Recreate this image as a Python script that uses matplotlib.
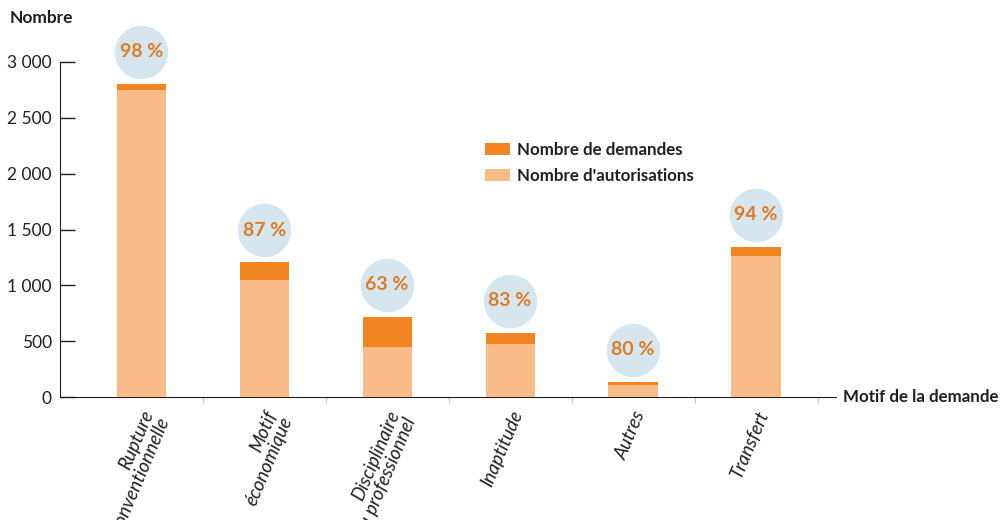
import matplotlib.pyplot as plt
from matplotlib.ticker import FuncFormatter, FixedLocator

plt.rcParams['font.family'] = ['Lato', 'DejaVu Sans']

# valeurs
categories = ["Rupture\nconventionnelle", "Motif\néconomique", "Disciplinaire\nou professionnel",
              "Inaptitude", "Autres", "Transfert"]
demandes = [2800, 1205, 715, 570, 135, 1340]
autorisations = [2750, 1045, 450, 473, 108, 1262]
taux = ["98 %", "87 %", "63 %", "83 %", "80 %", "94 %"]

c_dem = '#f28522'
c_aut = '#f9bb87'
c_rond = '#d6e6ef'
c_pct = '#e07b25'
c_txt = '#231f20'

W, H = 1002, 520
fig = plt.figure(figsize=(W/100, H/100), dpi=100)
ax = fig.add_axes([60/W, 1-397/H, (836-60)/W, (397-62)/H])

x = list(range(len(categories)))
ax.bar(x, demandes, width=0.4, color=c_dem, label="Nombre de demandes", zorder=2)
ax.bar(x, autorisations, width=0.4, color=c_aut, label="Nombre d'autorisations", zorder=3)

# bulles de pourcentage
for i in x:
    yc = demandes[i] + 290
    ax.scatter(i, yc, s=1480, color=c_rond, clip_on=False, zorder=4, linewidths=0)
    ax.text(i, yc, taux[i], ha='center', va='center', fontsize=14, fontweight='bold',
            color=c_pct, zorder=5, clip_on=False)

ax.set_xlim(-0.66, 5.65)
ax.set_ylim(0, 3000)
for s in ['top', 'right']:
    ax.spines[s].set_visible(False)
ax.spines['left'].set_color(c_txt)
ax.spines['bottom'].set_color(c_txt)

ax.set_yticks([0, 500, 1000, 1500, 2000, 2500, 3000])
ax.yaxis.set_major_formatter(FuncFormatter(lambda v, p: f"{int(v):,}".replace(",", " ")))
ax.tick_params(axis='y', direction='in', length=11, width=1, color=c_txt, pad=6,
               labelsize=12.5, labelcolor=c_txt)

ax.set_xticks(x)
ax.set_xticklabels(categories, rotation=67, ha='right', va='top', rotation_mode='anchor',
                   style='italic', fontsize=13.5, color=c_txt, linespacing=1.0)
ax.tick_params(axis='x', which='major', length=0, pad=8)
ax.xaxis.set_minor_locator(FixedLocator([0.5, 1.5, 2.5, 3.5, 4.5, 5.5]))
ax.tick_params(axis='x', which='minor', length=4, color='#c8c8c8', width=0.8)

fig.text(10/W, 1-18/H, "Nombre", fontsize=12.5, fontweight='bold', color=c_txt, va='center')
fig.text(843/W, 1-397/H, "Motif de la demande", fontsize=12.2, fontweight='bold',
         color=c_txt, va='center')

leg = ax.legend(loc='upper left', bbox_to_anchor=(470/W, 1-127/H), bbox_transform=fig.transFigure,
                frameon=False, handlelength=1.45, handleheight=0.7, labelspacing=0.55,
                handletextpad=0.45, prop={'size': 12.2, 'weight': 'bold'})
for t in leg.get_texts():
    t.set_color(c_txt)

fig.savefig('out.png', dpi=100)
